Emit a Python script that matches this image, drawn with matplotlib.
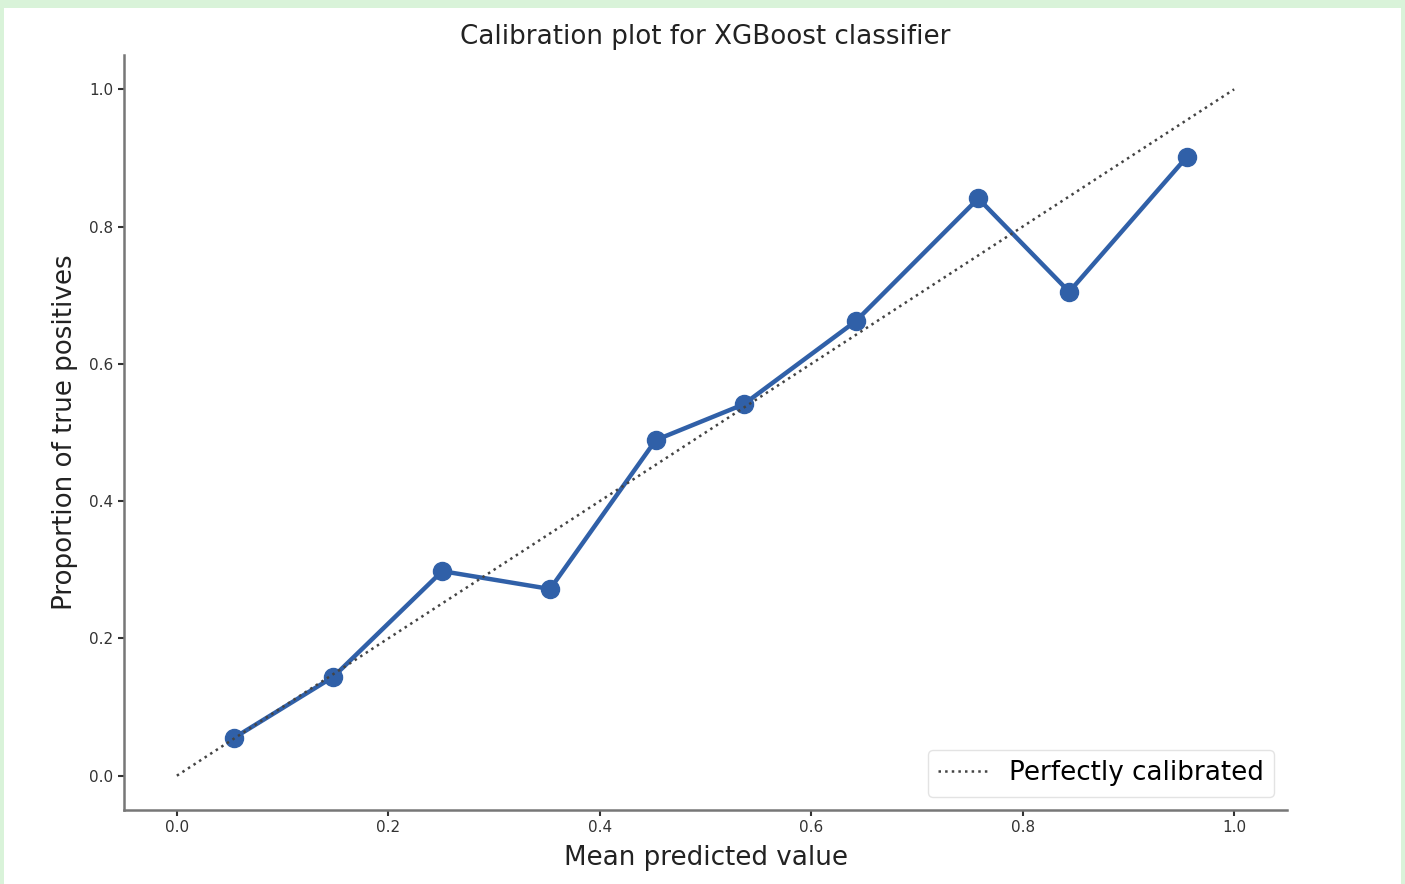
import matplotlib.pyplot as plt
from matplotlib.patches import Rectangle

# calibration curve values
mean_pred = [0.054, 0.148, 0.251, 0.353, 0.453, 0.536, 0.642, 0.758, 0.844, 0.955]
frac_pos = [0.055, 0.144, 0.298, 0.272, 0.489, 0.541, 0.662, 0.841, 0.705, 0.901]
ref = [0.0, 1.0]

fig = plt.figure(figsize=(14.05, 8.84), dpi=100, facecolor='#d9f3d9')
# white panel inside the green frame, drawn under the axes
fig.patches.append(Rectangle((4 / 1405, 0), 1397 / 1405, 876 / 884,
                             transform=fig.transFigure, facecolor='white',
                             edgecolor='none', zorder=-10))

ax = fig.add_axes([124 / 1405, 74 / 884, 1163 / 1405, 755 / 884])
ax.set_facecolor('white')

ax.plot(mean_pred, frac_pos, '-o', color='#3060a8', lw=3.2, ms=13, zorder=2)
ax.plot(ref, ref, ':', color='#444444', lw=1.8, label='Perfectly calibrated', zorder=3)

ax.set_xlim(-0.05, 1.05)
ax.set_ylim(-0.05, 1.05)
ax.set_xticks([0.0, 0.2, 0.4, 0.6, 0.8, 1.0])
ax.set_yticks([0.0, 0.2, 0.4, 0.6, 0.8, 1.0])
ax.tick_params(labelsize=11, colors='#333333', length=4, width=1.5)

for s in ['top', 'right']:
    ax.spines[s].set_visible(False)
for s in ['left', 'bottom']:
    ax.spines[s].set_color('#777777')
    ax.spines[s].set_linewidth(1.8)

ax.set_title('Calibration plot for XGBoost classifier', fontsize=18.8, color='#222222', pad=8)
ax.set_xlabel('Mean predicted value', fontsize=18.8, color='#222222', labelpad=7)
ax.set_ylabel('Proportion of true positives', fontsize=18.8, color='#222222', labelpad=8)

ax.legend(loc='lower right', fontsize=18.8, handlelength=1.9, frameon=True,
          edgecolor='#dddddd', borderpad=0.4)

fig.savefig('out.png', dpi=100, facecolor=fig.get_facecolor())
